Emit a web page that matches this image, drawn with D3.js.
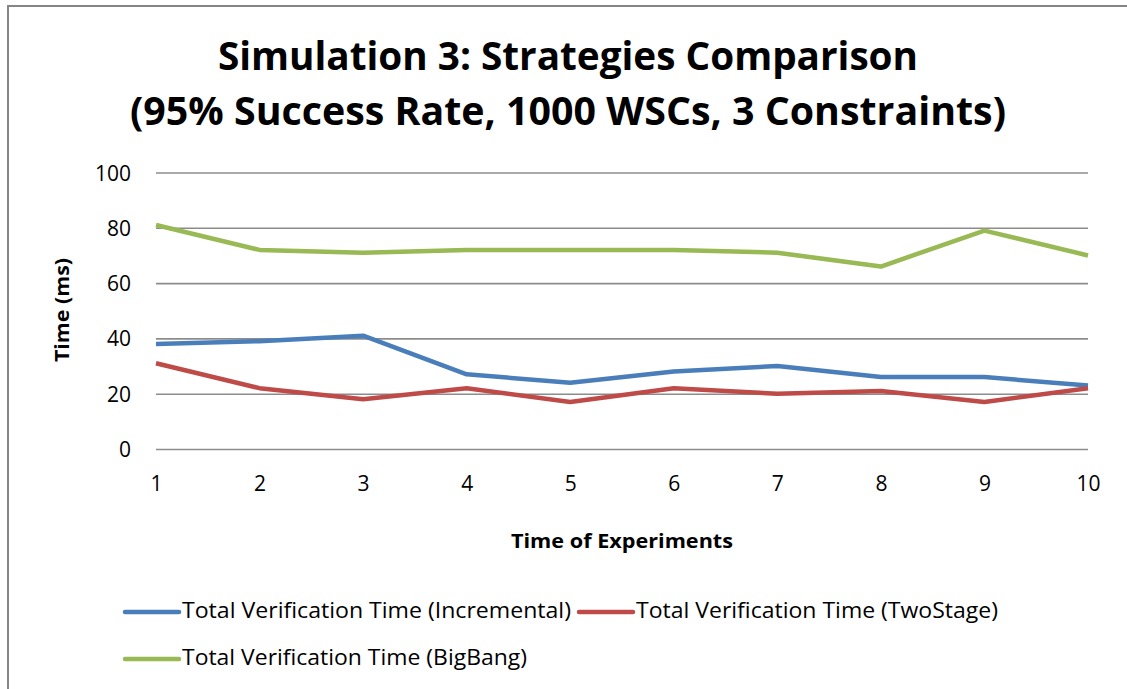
<!DOCTYPE html>
<html>
<head>
<meta charset="utf-8">
<script src="https://cdn.jsdelivr.net/npm/d3@7"></script>
<style>
  html, body { margin: 0; padding: 0; background: #fff; }
  svg { display: block; }
  text { font-family: "Open Sans", "Noto Sans", sans-serif; fill: #000; }
</style>
</head>
<body>
<svg id="chart" width="1127" height="689"></svg>
<script>
// Experiment runs on the x axis
const experiments = ["1", "2", "3", "4", "5", "6", "7", "8", "9", "10"];
// Total verification time per strategy (ms)
const incremental = [38, 39, 41, 27, 24, 28, 30, 26, 26, 23];
const twoStage    = [31, 22, 18, 22, 17, 22, 20, 21, 17, 22];
const bigBang     = [81, 72, 71, 72, 72, 72, 71, 66, 79, 70];
const yTicks = [0, 20, 40, 60, 80, 100];

const seriesNames = [
  "Total Verification Time (Incremental)",
  "Total Verification Time (TwoStage)",
  "Total Verification Time (BigBang)"
];
const seriesColors = ["#4a7ebb", "#be4b48", "#98b954"];
const seriesValues = [incremental, twoStage, bigBang];

const titleLines = [
  "Simulation 3: Strategies Comparison",
  "(95% Success Rate, 1000 WSCs, 3 Constraints)"
];

const svg = d3.select("#chart");
const W = 1127, H = 689;

// outer chart frame (only top and left edges fall inside the view)
svg.append("rect")
  .attr("x", 8).attr("y", 6)
  .attr("width", W + 20).attr("height", H + 20)
  .attr("fill", "#fff")
  .attr("stroke", "#868686").attr("stroke-width", 2);

const x = d3.scalePoint().domain(experiments).range([156, 1088]);
const y = d3.scaleLinear().domain([0, 100]).range([449, 172.5]);

// title
const titleWidths = [700, 876];
titleLines.forEach((t, i) => {
  svg.append("text")
    .attr("x", 568).attr("y", 70 + i * 55)
    .attr("text-anchor", "middle")
    .attr("font-size", 40).attr("font-weight", 700)
    .attr("textLength", titleWidths[i])
    .attr("lengthAdjust", "spacingAndGlyphs")
    .text(t);
});

// horizontal gridlines + y labels
const yAxis = d3.axisLeft(y).tickValues(yTicks).tickSize(-(1088 - 156)).tickPadding(25);
const gy = svg.append("g").attr("transform", "translate(156,0)").call(yAxis);
gy.select(".domain").remove();
gy.selectAll(".tick line").attr("stroke", "#8c8c8c").attr("stroke-width", 1.6);
gy.selectAll(".tick text")
  .attr("font-size", 21).attr("font-family", "'Open Sans', sans-serif")
  .attr("fill", "#000").attr("dy", "0.36em");

// x labels
const xAxis = d3.axisBottom(x).tickSize(0).tickPadding(0);
const gx = svg.append("g").attr("transform", "translate(0,476)").call(xAxis);
gx.select(".domain").remove();
gx.selectAll(".tick text")
  .attr("font-size", 21).attr("font-family", "'Open Sans', sans-serif")
  .attr("fill", "#000").attr("dy", "0.71em");

// axis titles
svg.append("text")
  .attr("transform", "translate(69,310) rotate(-90)")
  .attr("text-anchor", "middle")
  .attr("font-size", 20).attr("font-weight", 700)
  .attr("textLength", 104).attr("lengthAdjust", "spacingAndGlyphs")
  .text("Time (ms)");

svg.append("text")
  .attr("x", 622).attr("y", 548)
  .attr("text-anchor", "middle")
  .attr("font-size", 20).attr("font-weight", 700)
  .attr("textLength", 222).attr("lengthAdjust", "spacingAndGlyphs")
  .text("Time of Experiments");

// series lines
const line = d3.line()
  .x((d, i) => x(experiments[i]))
  .y(d => y(d));

seriesValues.forEach((vals, k) => {
  svg.append("path")
    .datum(vals)
    .attr("d", line)
    .attr("fill", "none")
    .attr("stroke", seriesColors[k])
    .attr("stroke-width", 4.5)
    .attr("stroke-linejoin", "round");
});

// legend
const legendItems = [
  { x: 125, y: 612, w: 389 },
  { x: 579, y: 612, w: 362 },
  { x: 125, y: 659, w: 345 }
];
legendItems.forEach((p, k) => {
  svg.append("line")
    .attr("x1", p.x).attr("x2", p.x + 54)
    .attr("y1", p.y).attr("y2", p.y)
    .attr("stroke", seriesColors[k]).attr("stroke-width", 4.5)
    .attr("stroke-linecap", "round");
  svg.append("text")
    .attr("x", p.x + 57).attr("y", p.y + 6)
    .attr("font-size", 21.5)
    .attr("textLength", p.w).attr("lengthAdjust", "spacingAndGlyphs")
    .text(seriesNames[k]);
});
</script>
</body>
</html>
